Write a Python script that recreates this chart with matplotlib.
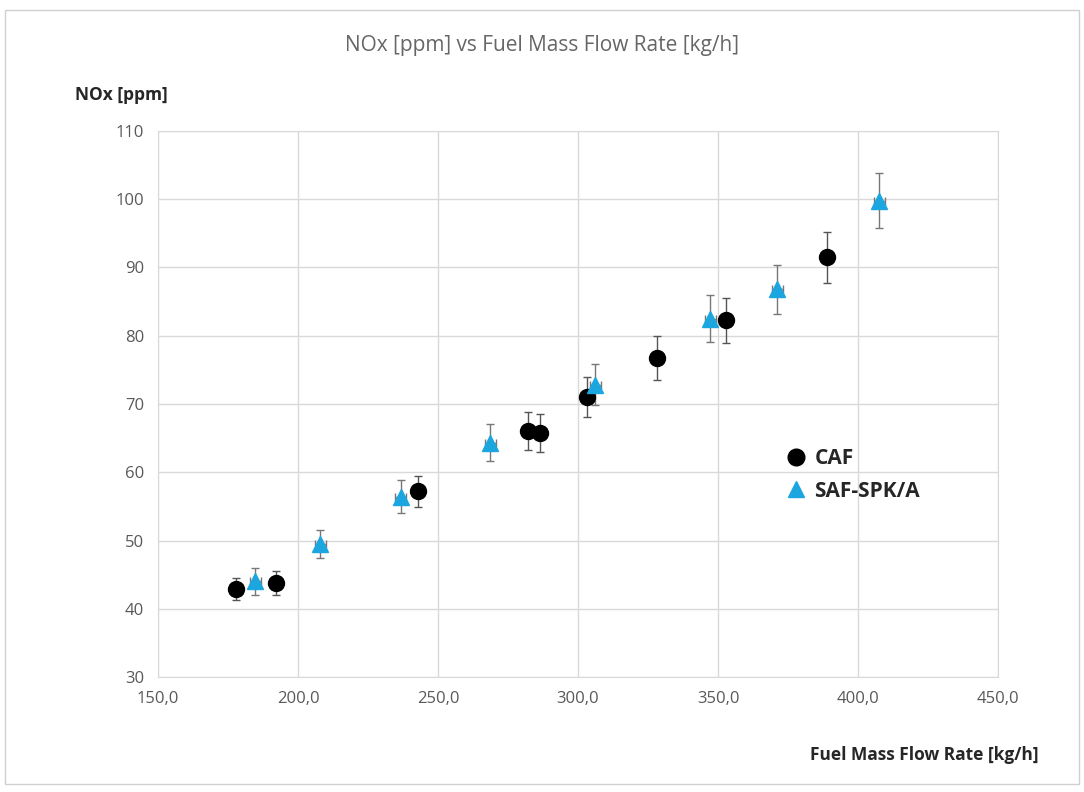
import matplotlib.pyplot as plt
from matplotlib.patches import Rectangle
from matplotlib.lines import Line2D

# CAF data (black circles)
caf_flow = [177.9, 192.3, 242.9, 282.1, 286.4, 303.2, 328.2, 352.8, 388.9]
caf_nox = [42.9, 43.8, 57.2, 66.0, 65.8, 71.0, 76.7, 82.3, 91.5]
caf_err = [1.6, 1.8, 2.3, 2.8, 2.8, 2.9, 3.2, 3.3, 3.7]

# SAF-SPK/A data (blue triangles)
saf_flow = [184.8, 207.9, 236.6, 268.7, 306.1, 347.3, 371.2, 407.6]
saf_nox = [44.0, 49.5, 56.4, 64.3, 72.8, 82.5, 86.8, 99.8]
saf_err = [2.0, 2.1, 2.4, 2.7, 3.0, 3.4, 3.6, 4.0]

x_ticks = [150, 200, 250, 300, 350, 400, 450]
y_ticks = [30, 40, 50, 60, 70, 80, 90, 100, 110]

plt.rcParams['font.family'] = ['Open Sans', 'DejaVu Sans']

fig = plt.figure(figsize=(10.84, 7.92), dpi=100)
ax = fig.add_axes([0.1458, 0.1452, 0.7749, 0.6894])

blue = '#1ca6df'
ax.errorbar(caf_flow, caf_nox, yerr=caf_err, xerr=2.0, fmt='o', color='black',
            ms=11.5, ecolor='#555555', elinewidth=1, capsize=3, zorder=3)
ax.errorbar(saf_flow, saf_nox, yerr=saf_err, xerr=2.0, fmt='^', color=blue,
            ms=11, ecolor='#777777', elinewidth=1, capsize=3, zorder=3)

ax.set_xlim(150, 450)
ax.set_ylim(30, 110)
ax.set_xticks(x_ticks)
ax.set_yticks(y_ticks)
ax.set_xticklabels([f'{v:.1f}'.replace('.', ',') for v in x_ticks])
ax.tick_params(colors='#595959', labelsize=12, length=0, pad=10)
ax.grid(True, color='#d9d9d9', linewidth=1)
ax.set_axisbelow(True)
for s in ax.spines.values():
    s.set_color('#d9d9d9')

fig.text(0.5, 0.943, 'NOx [ppm] vs Fuel Mass Flow Rate [kg/h]', ha='center', va='center',
         fontsize=15, color='#666666')
fig.text(0.069, 0.88, 'NOx [ppm]', ha='left', va='center', fontsize=12.5,
         fontweight='bold', color='#262626')
fig.text(0.958, 0.047, 'Fuel Mass Flow Rate [kg/h]', ha='right', va='center',
         fontsize=12.5, fontweight='bold', color='#262626')

handles = [Line2D([], [], marker='o', color='black', ls='none', ms=12),
           Line2D([], [], marker='^', color=blue, ls='none', ms=12)]
leg = ax.legend(handles, ['CAF', 'SAF-SPK/A'], loc='center left',
                bbox_to_anchor=(0.722, 0.37), frameon=False,
                prop={'size': 15, 'weight': 'bold'}, handletextpad=0.3,
                labelspacing=0.55, handlelength=1.2)
for t in leg.get_texts():
    t.set_color('#262626')

fig.patches.append(Rectangle((0.005, 0.01), 0.99, 0.978, transform=fig.transFigure,
                             fill=False, edgecolor='#d0d0d0', linewidth=1))

fig.savefig('out.png', dpi=100)
